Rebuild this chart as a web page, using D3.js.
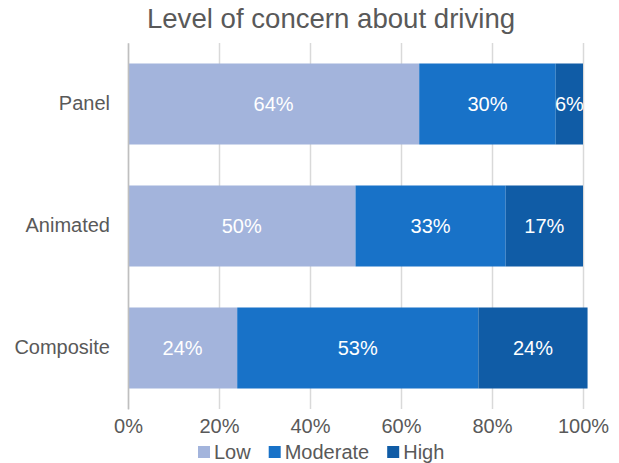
<!DOCTYPE html>
<html>
<head>
<meta charset="utf-8">
<script src="https://cdn.jsdelivr.net/npm/d3@7"></script>
<style>
  html, body { margin: 0; padding: 0; background: #fff; }
  svg { display: block; font-family: "Liberation Sans", Arial, sans-serif; }
</style>
</head>
<body>
<svg id="chart" width="619" height="463"></svg>
<script>
// Survey responses by presentation format
const categories = ["Panel", "Animated", "Composite"];
const seriesNames = ["Low", "Moderate", "High"];
const lowValues = [64, 50, 24];
const moderateValues = [30, 33, 53];
const highValues = [6, 17, 24];
const tickValues = [0, 20, 40, 60, 80, 100];
const tickLabels = ["0%", "20%", "40%", "60%", "80%", "100%"];
const seriesColors = ["#A3B4DC", "#1872C8", "#105CA6"];
const titleText = "Level of concern about driving";

const svg = d3.select("#chart");
const margin = { left: 128, right: 36, top: 43, bottom: 54 };
const W = 619, H = 463;

const x = d3.scaleLinear().domain([0, 100]).range([margin.left, W - margin.right]);
const y = d3.scaleBand().domain(categories).range([margin.top, H - margin.bottom]).paddingInner(0.336).paddingOuter(0.168);

const rows = categories.map((c, i) => ({ cat: c, Low: lowValues[i], Moderate: moderateValues[i], High: highValues[i] }));
const stacked = d3.stack().keys(seriesNames)(rows);
const color = d3.scaleOrdinal().domain(seriesNames).range(seriesColors);

// Title
svg.append("text")
  .attr("x", 331).attr("y", 28)
  .attr("text-anchor", "middle")
  .attr("font-size", 27.6)
  .attr("fill", "#595959")
  .text(titleText);

// Vertical gridlines
const xAxis = d3.axisBottom(x).tickValues(tickValues).tickFormat((d, i) => tickLabels[i]).tickSize(-(H - margin.bottom - margin.top)).tickPadding(10);
const gx = svg.append("g").attr("transform", `translate(0,${H - margin.bottom})`).call(xAxis);
gx.select(".domain").remove();
gx.selectAll(".tick line").attr("stroke", "#d9d9d9").attr("stroke-width", 1.5);
gx.selectAll(".tick text").attr("font-size", 20).attr("fill", "#595959").attr("font-family", "Liberation Sans, Arial, sans-serif");

// Bars
const layer = svg.append("g").selectAll("g").data(stacked).join("g").attr("fill", d => color(d.key));
layer.selectAll("rect").data(d => d).join("rect")
  .attr("x", d => x(d[0]))
  .attr("y", d => y(d.data.cat))
  .attr("width", d => x(d[1]) - x(d[0]))
  .attr("height", y.bandwidth());

// Data labels
const labels = svg.append("g");
stacked.forEach(s => {
  s.forEach(d => {
    labels.append("text")
      .attr("x", (x(d[0]) + x(d[1])) / 2)
      .attr("y", y(d.data.cat) + y.bandwidth() / 2)
      .attr("dy", "0.36em")
      .attr("text-anchor", "middle")
      .attr("font-size", 20)
      .attr("fill", "#ffffff")
      .text((d[1] - d[0]) + "%");
  });
});

// Category axis
const yAxis = d3.axisLeft(y).tickSize(0).tickPadding(18);
const gy = svg.append("g").attr("transform", `translate(${margin.left},0)`).call(yAxis);
gy.select(".domain").attr("stroke", "#bfbfbf").attr("stroke-width", 1.5);
gy.selectAll(".tick text").attr("font-size", 20).attr("fill", "#595959").attr("font-family", "Liberation Sans, Arial, sans-serif");

// Legend
const legend = svg.append("g").attr("transform", "translate(198,452)");
let lx = 0;
seriesNames.forEach(name => {
  const item = legend.append("g").attr("transform", `translate(${lx},0)`);
  item.append("rect").attr("x", 0).attr("y", -6).attr("width", 12).attr("height", 12).attr("fill", color(name));
  const t = item.append("text").attr("x", 16).attr("y", 0).attr("dy", "0.36em")
    .attr("font-size", 20).attr("fill", "#595959").text(name);
  lx += 16 + t.node().getComputedTextLength() + 18;
});
</script>
</body>
</html>
